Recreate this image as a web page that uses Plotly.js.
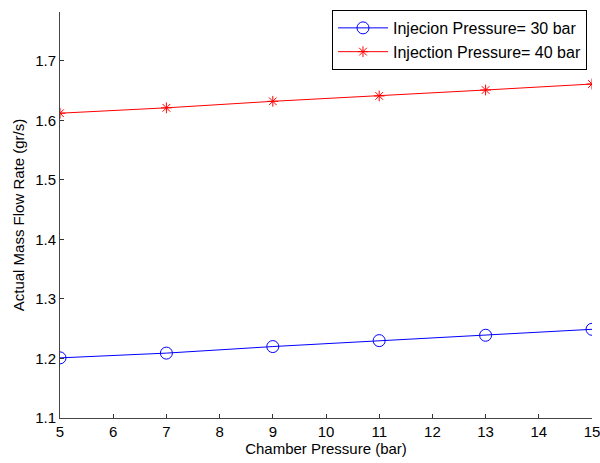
<!DOCTYPE html>
<html>
<head>
<meta charset="utf-8">
<script src="https://cdn.plot.ly/plotly-3.0.1.min.js"></script>
<style>body{margin:0;padding:0;background:#fff;} #chart{width:600px;height:463px;}</style>
</head>
<body>
<div id="chart"></div>
<script>
const chamberPressure = [5, 7, 9, 11, 13, 15];
const flow30 = [1.201, 1.209, 1.220, 1.230, 1.239, 1.249];
const flow40 = [1.612, 1.621, 1.632, 1.641, 1.651, 1.661];
const seriesNames = ["Injecion Pressure= 30 bar", "Injection Pressure= 40 bar"];
const xTicks = [5, 6, 7, 8, 9, 10, 11, 12, 13, 14, 15];
const yTicks = [1.1, 1.2, 1.3, 1.4, 1.5, 1.6, 1.7];

const traces = [
  {x: chamberPressure, y: flow30, name: seriesNames[0], type: 'scatter', mode: 'lines+markers',
   line: {color: '#0000ff', width: 1}, marker: {symbol: 'circle-open', size: 12, color: '#0000ff', line: {width: 1}}},
  {x: chamberPressure, y: flow40, name: seriesNames[1], type: 'scatter', mode: 'lines+markers',
   line: {color: '#ff0000', width: 1}, marker: {symbol: 'asterisk-open', size: 9, color: '#ff0000', line: {width: 1, color: '#ff0000'}}}
];

const layout = {
  width: 600, height: 463,
  margin: {l: 60, r: 8, t: 12, b: 45},
  paper_bgcolor: '#fff', plot_bgcolor: '#fff',
  font: {family: 'Liberation Sans, Arial, sans-serif', size: 15, color: '#000'},
  showlegend: true,
  legend: {x: 0.9906, xanchor: 'right', y: 1.005, yanchor: 'top', bordercolor: '#000', borderwidth: 1,
           bgcolor: '#fff', font: {size: 16}, tracegroupgap: 0, itemwidth: 50},
  xaxis: {range: [5, 15], tickvals: xTicks, ticktext: xTicks.map(String), ticks: 'inside', ticklen: 4,
          tickcolor: '#333', showline: true, linecolor: '#444', linewidth: 1, showgrid: false, zeroline: false,
          tickfont: {size: 15}, ticklabeloverflow: 'allow',
          title: {text: 'Chamber Pressure (bar)', font: {size: 15}, standoff: 2}, mirror: false},
  yaxis: {range: [1.1, 1.782], tickvals: yTicks, ticktext: yTicks.map(v => v.toFixed(1)), ticks: 'inside', ticklen: 4,
          tickcolor: '#333', showline: true, linecolor: '#444', linewidth: 1, showgrid: false, zeroline: false,
          tickfont: {size: 15}, ticklabeloverflow: 'allow',
          title: {text: 'Actual Mass Flow Rate (gr/s)', font: {size: 15}, standoff: 6}}
};

Plotly.newPlot('chart', traces, layout, {displayModeBar: false, staticPlot: true});
</script>
</body>
</html>
